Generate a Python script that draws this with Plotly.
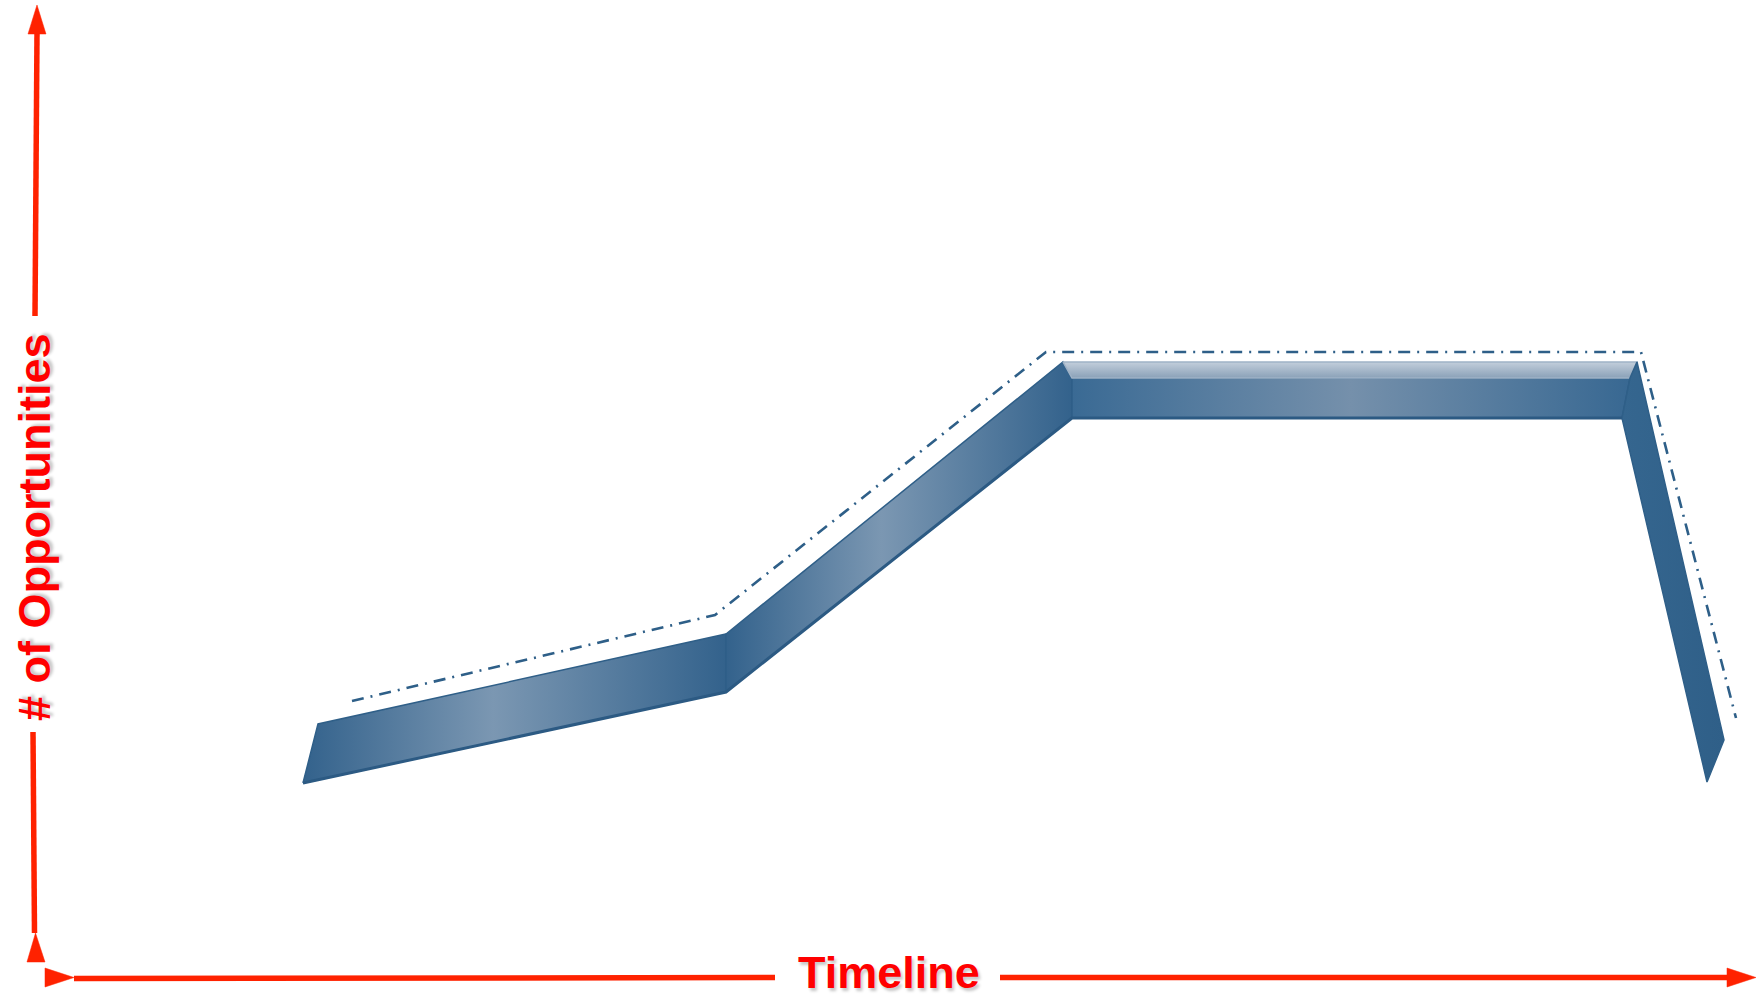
import plotly.graph_objects as go

# ---- data (timeline units across, opportunity units up) ----
# knots of the lower (front) edge of the band
base_time = [3.03, 7.26, 10.72, 16.22, 17.07]
base_opps = [2.15, 3.06, 5.80, 5.80, 2.16]
# knots of the upper edge of the band
top_time = [3.18, 7.26, 10.63, 16.37, 17.24]
top_opps = [2.74, 3.64, 6.36, 6.36, 2.58]
# inner edge between top face and front face on the plateau
face_time = [10.72, 16.30]
face_opps = [6.20, 6.20]
# dash-dot trend line
trend_time = [3.52, 7.15, 10.46, 16.41, 17.36]
trend_opps = [2.97, 3.83, 6.46, 6.46, 2.80]

x_label = "Timeline"
y_label = "# of Opportunities"

W, H = 1761, 998
DARK = "#2f5f88"
LIGHT = "#7b97b2"
RED = "#ff2200"

fig = go.Figure()


def face(xs, ys, scale, gtype="horizontal", edge=DARK):
    fig.add_trace(go.Scatter(
        x=xs + [xs[0]], y=ys + [ys[0]], mode="lines", fill="toself",
        line=dict(color=edge, width=1.5),
        fillgradient=dict(type=gtype, colorscale=scale),
        hoverinfo="skip", showlegend=False))


side_scale = [[0, "#33628c"], [0.45, LIGHT], [1, "#33628c"]]

# rising segment 1
face([base_time[0], top_time[0], top_time[1], base_time[1]],
     [base_opps[0], top_opps[0], top_opps[1], base_opps[1]], side_scale)
# rising segment 2
face([base_time[1], top_time[1], top_time[2], face_time[0], base_time[2]],
     [base_opps[1], top_opps[1], top_opps[2], face_opps[0], base_opps[2]], side_scale)
# plateau front face
face([face_time[0], face_time[1], base_time[3], base_time[2]],
     [face_opps[0], face_opps[1], base_opps[3], base_opps[2]],
     [[0, "#3a6a94"], [0.5, "#7590ab"], [1, "#386892"]])
# plateau top face (lighter strip)
face([top_time[2], top_time[3], face_time[1], face_time[0]],
     [top_opps[2], top_opps[3], face_opps[1], face_opps[0]],
     [[0, "#8aa1b8"], [1, "#c2cedb"]], gtype="vertical", edge="#9fb2c6")
# falling segment
face([base_time[3], face_time[1], top_time[3], top_time[4], base_time[4]],
     [base_opps[3], face_opps[1], top_opps[3], top_opps[4], base_opps[4]],
     [[0, "#35668f"], [1, "#2f5f88"]])

# darker lower edge of the band
fig.add_trace(go.Scatter(x=base_time[:4], y=base_opps[:4], mode="lines",
                         line=dict(color="#2c5a83", width=3),
                         hoverinfo="skip", showlegend=False))

# dash-dot trend line
fig.add_trace(go.Scatter(x=trend_time, y=trend_opps, mode="lines",
                         line=dict(color="#2e5f88", width=2.6, dash="12px,7px,2px,7px"),
                         hoverinfo="skip", showlegend=False))


def px(x):
    return x / W


def py(y):
    return 1 - y / H


shapes = []


def seg(x0, y0, x1, y1, w=5.5):
    shapes.append(dict(type="line", xref="paper", yref="paper",
                       x0=px(x0), y0=py(y0), x1=px(x1), y1=py(y1),
                       line=dict(color=RED, width=w)))


def tri(pts):
    d = "M " + " L ".join(f"{px(a):.5f},{py(b):.5f}" for a, b in pts) + " Z"
    shapes.append(dict(type="path", xref="paper", yref="paper", path=d,
                       fillcolor=RED, line=dict(color=RED, width=0.5)))


# vertical axis arrow
seg(37, 33, 35, 316)
seg(33, 732, 34.5, 933)
tri([(37, 5), (28, 34), (46, 34)])
tri([(35.5, 933), (27, 962), (45, 962)])
# horizontal axis arrow
seg(74, 978.5, 775, 977.5)
seg(1000, 977.5, 1727, 977.5)
tri([(45, 968), (45, 987), (74, 977.5)])
tri([(1727, 968), (1727, 987), (1756, 977.5)])

font = dict(family="Liberation Sans Narrow, Arial Narrow, Liberation Sans, Arial, sans-serif",
            size=45, color="#ff0000", weight="bold",
            shadow="2px 3px 3px rgba(0,0,0,0.22)")

annotations = [
    dict(text=x_label, xref="paper", yref="paper", x=px(889), y=py(972),
         xanchor="center", yanchor="middle", showarrow=False, font=font),
    dict(text=y_label, xref="paper", yref="paper", x=px(34), y=py(527),
         xanchor="center", yanchor="middle", showarrow=False, font=font,
         textangle=-90),
]

fig.update_layout(
    width=W, height=H,
    margin=dict(l=0, r=0, t=0, b=0),
    paper_bgcolor="white", plot_bgcolor="white",
    xaxis=dict(range=[0, W / 100], visible=False, fixedrange=True),
    yaxis=dict(range=[0, H / 100], visible=False, fixedrange=True),
    shapes=shapes, annotations=annotations,
    showlegend=False,
)

fig.write_html("out.html", config=dict(displayModeBar=False))
